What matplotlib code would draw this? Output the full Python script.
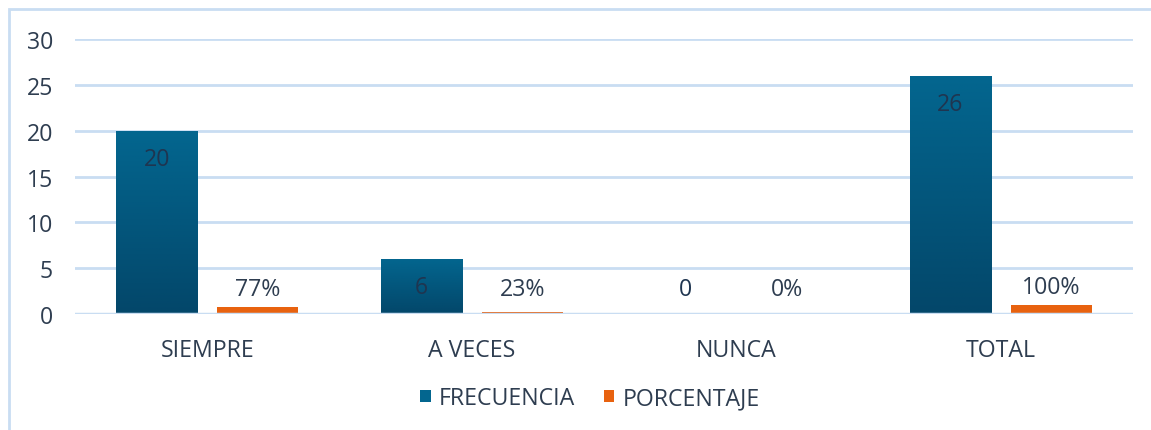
import matplotlib

matplotlib.use("Agg")
import matplotlib.pyplot as plt
import numpy as np
from matplotlib.colors import LinearSegmentedColormap
from matplotlib.patches import Rectangle

categories = ["SIEMPRE", "A VECES", "NUNCA", "TOTAL"]
frecuencia = [20, 6, 0, 26]
porcentaje = [0.77, 0.23, 0.0, 1.0]
porcentaje_labels = ["77%", "23%", "0%", "100%"]

TEXT = "#2e3d50"
LABEL = "#1f3550"
GRID = "#c9ddf2"
BLUE_TOP = "#03668f"
BLUE_BOT = "#03476a"
ORANGE = "#e8620f"
FS = 16.7

plt.rcParams["font.family"] = ["Open Sans", "DejaVu Sans"]

fig = plt.figure(figsize=(11.51, 4.31), dpi=100)
ax = fig.add_axes([0.0652, 0.2691, 0.9192, 0.6381])

# light blue frame around the chart area (only top and left visible)
fig.add_artist(Rectangle((9 / 1151, -0.05), 1.2, (421 / 431) + 0.05,
                         transform=fig.transFigure, fill=False,
                         edgecolor=GRID, linewidth=2))

x = np.arange(len(categories))
w = 0.307
off = 0.191

ax.set_xlim(-0.5, 3.5)
ax.set_ylim(0, 30)
px_per_unit = ax.get_position().height * 431 / 30

grad = LinearSegmentedColormap.from_list("blu", [BLUE_BOT, BLUE_TOP])
bars = ax.bar(x - off, frecuencia, w, color=BLUE_TOP, zorder=3, label="FRECUENCIA")
for b in bars:
    if b.get_height() <= 0:
        continue
    img = ax.imshow(np.linspace(0, 1, 100).reshape(-1, 1), cmap=grad, aspect="auto",
                    origin="lower", zorder=3.5,
                    extent=[b.get_x(), b.get_x() + b.get_width(), 0, b.get_height()])
    img.set_clip_path(b)
ax.bar(x + off, porcentaje, w, color=ORANGE, zorder=3, label="PORCENTAJE")
ax.axhline(0, color=GRID, linewidth=2.5, zorder=4)

for xi, v in zip(x, frecuencia):
    dy = -28 if v > 0 else 25
    ax.annotate(str(v), (xi - off, v), xytext=(0, dy), textcoords="offset pixels",
                ha="center", va="center", fontsize=FS, color=LABEL, zorder=5)
for xi, v, lab in zip(x, porcentaje, porcentaje_labels):
    dy = max(18, 25 - v * px_per_unit)
    ax.annotate(lab, (xi + off, v), xytext=(0, dy), textcoords="offset pixels",
                ha="center", va="center", fontsize=FS, color=TEXT, zorder=5)

ax.set_xlim(-0.5, 3.5)
ax.set_ylim(0, 30)
ax.set_yticks(range(0, 31, 5))
ax.set_xticks(x)
ax.set_xticklabels(categories)
ax.tick_params(axis="both", length=0, labelsize=FS, colors=TEXT)
ax.tick_params(axis="x", pad=17)
ax.tick_params(axis="y", pad=16)
ax.grid(axis="y", color=GRID, linewidth=2, zorder=0)
ax.set_axisbelow(True)
for s in ax.spines.values():
    s.set_visible(False)

ax.legend(loc="center", bbox_to_anchor=(590 / 1151, 1 - 399 / 431),
          bbox_transform=fig.transFigure, ncol=2, frameon=False,
          fontsize=FS, labelcolor=TEXT, handlelength=0.45, handleheight=0.45,
          handletextpad=0.35, columnspacing=1.25)

fig.savefig("out.png", dpi=100, facecolor="white")
